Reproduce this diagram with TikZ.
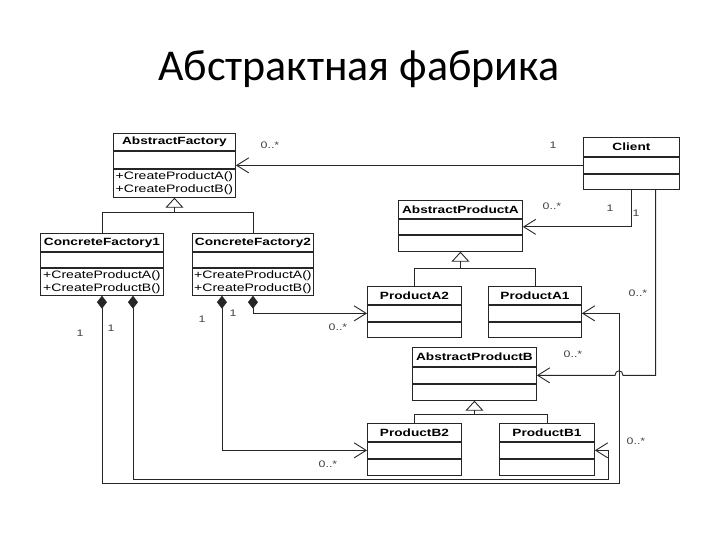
\documentclass[tikz,border=0pt]{standalone}
\usepackage{fontspec}
\newfontfamily\titlefont{Carlito}
\newfontfamily\umlfont[FakeStretch=1.3]{Liberation Sans}
\usetikzlibrary{positioning,arrows.meta,calc}

\tikzset{
  cname/.style={draw=black!85, line width=0.9pt, fill=white, inner sep=0pt,
    font=\umlfont\bfseries\fontsize{10.5}{12}\selectfont},
  crow/.style={draw=black!85, line width=0.9pt, fill=white, inner sep=0pt},
  cops/.style={crow, align=left, inner xsep=1pt,
    font=\umlfont\fontsize{10.8}{13}\selectfont},
  mult/.style={font=\umlfont\fontsize{9.5}{11}\selectfont, text=black!75, inner sep=0pt},
  assoc/.style={draw=black!85, line width=0.9pt, -{Straight Barb[length=12pt,width=15pt]}},
  comp/.style={draw=black!85, line width=0.9pt,
    arrows={Diamond[length=13pt,width=10pt]-Straight Barb[length=12pt,width=15pt]}},
  inh/.style={draw=black!85, line width=0.9pt, -{Triangle[open,length=10pt,width=18pt]}},
  plain/.style={draw=black!85, line width=0.9pt}
}

\begin{document}
\begin{tikzpicture}[x=1pt,y=-1pt]
\useasboundingbox (0,0) rectangle (720,540);

\node[font=\titlefont\fontsize{44}{52}\selectfont] (title) at (359,69) {Абстрактная фабрика};

% factories
\node[cname, anchor=north west, minimum width=122pt, minimum height=17pt] (af) at (113,133) {AbstractFactory};
\node[crow, below=0pt of af, minimum width=122pt, minimum height=17pt] (af-a) {};
\node[cops, below=0pt of af-a, minimum width=122pt, minimum height=28pt] (af-o) {+CreateProductA()\\+CreateProductB()};

\node[cname, anchor=north west, minimum width=123pt, minimum height=18pt] (cf1) at (40,233) {ConcreteFactory1};
\node[crow, below=0pt of cf1, minimum width=123pt, minimum height=15pt] (cf1-a) {};
\node[cops, below=0pt of cf1-a, minimum width=123pt, minimum height=27pt] (cf1-o) {+CreateProductA()\\+CreateProductB()};

\node[cname, anchor=north west, minimum width=121pt, minimum height=18pt] (cf2) at (192,233) {ConcreteFactory2};
\node[crow, below=0pt of cf2, minimum width=121pt, minimum height=15pt] (cf2-a) {};
\node[cops, below=0pt of cf2-a, minimum width=121pt, minimum height=27pt] (cf2-o) {+CreateProductA()\\+CreateProductB()};

% client
\node[cname, anchor=north west, minimum width=96pt, minimum height=19pt] (cl) at (583,137) {Client};
\node[crow, below=0pt of cl, minimum width=96pt, minimum height=16pt] (cl-a) {};
\node[crow, below=0pt of cl-a, minimum width=96pt, minimum height=15pt] (cl-o) {};

% products A
\node[cname, anchor=north west, minimum width=124pt, minimum height=18pt] (apa) at (398,200) {AbstractProductA};
\node[crow, below=0pt of apa, minimum width=124pt, minimum height=15pt] (apa-a) {};
\node[crow, below=0pt of apa-a, minimum width=124pt, minimum height=16pt] (apa-o) {};

\node[cname, anchor=north west, minimum width=94pt, minimum height=18pt] (pa2) at (367,286) {ProductA2};
\node[crow, below=0pt of pa2, minimum width=94pt, minimum height=16pt] (pa2-a) {};
\node[crow, below=0pt of pa2-a, minimum width=94pt, minimum height=15pt] (pa2-o) {};

\node[cname, anchor=north west, minimum width=93pt, minimum height=18pt] (pa1) at (488,286) {ProductA1};
\node[crow, below=0pt of pa1, minimum width=93pt, minimum height=16pt] (pa1-a) {};
\node[crow, below=0pt of pa1-a, minimum width=93pt, minimum height=15pt] (pa1-o) {};

% products B
\node[cname, anchor=north west, minimum width=124pt, minimum height=19pt] (apb) at (412,347) {AbstractProductB};
\node[crow, below=0pt of apb, minimum width=124pt, minimum height=16pt] (apb-a) {};
\node[crow, below=0pt of apb-a, minimum width=124pt, minimum height=16pt] (apb-o) {};

\node[cname, anchor=north west, minimum width=94pt, minimum height=18pt] (pb2) at (367,423) {ProductB2};
\node[crow, below=0pt of pb2, minimum width=94pt, minimum height=16pt] (pb2-a) {};
\node[crow, below=0pt of pb2-a, minimum width=94pt, minimum height=16pt] (pb2-o) {};

\node[cname, anchor=north west, minimum width=95pt, minimum height=18pt] (pb1) at (499,423) {ProductB1};
\node[crow, below=0pt of pb1, minimum width=95pt, minimum height=16pt] (pb1-a) {};
\node[crow, below=0pt of pb1-a, minimum width=95pt, minimum height=16pt] (pb1-o) {};

% generalisation
\draw[inh] (cf1.north) |- ($(af-o.south)+(0,15)$) -- (af-o.south);
\draw[plain] (cf2.north) |- ($(af-o.south)+(0,15)$);
\draw[inh] (pa2.north) |- ($(apa-o.south)+(0,17)$) -- (apa-o.south);
\draw[plain] (pa1.north) |- ($(apa-o.south)+(0,17)$);
\draw[inh] (pb2.north) |- ($(apb-o.south)+(0,14)$) -- (apb-o.south);
\draw[plain] (pb1.north) |- ($(apb-o.south)+(0,14)$);

% client associations
\coordinate (rb) at (619,483);
\coordinate (rc) at (608,479);
\coordinate (clb) at ($(cl-o.south)!0.5!(cl-o.south east)$);
\draw[assoc] (cl-a.west) -- (cl-a.west -| af-a.east);
\draw[assoc] (cl-o.south) |- (apa-a.east);
\draw[assoc] (clb) |- ($(rb |- apb-a.east)+(4,0)$) .. controls +(0,-6) and +(0,-6) .. ($(rb |- apb-a.east)+(-4,0)$) -- (apb-a.east);

% creation links
\draw[comp] (cf2-o.south) |- (pa2-a.west);
\draw[comp] ($(cf2-o.south)+(-31,0)$) |- (pb2-a.west);
\draw[comp] (cf1-o.south) |- (rb) |- (pa1-a.east);
\draw[comp] ($(cf1-o.south)+(31,0)$) |- (rc) |- (pb1-a.east);

% multiplicities
\node[mult] (m1) at (270,145) {0..*};
\node[mult] (m2) at (553,145) {1};
\node[mult] (m3) at (552,206) {0..*};
\node[mult] (m4) at (610,208) {1};
\node[mult] (m5) at (636,213) {1};
\node[mult] (m6) at (638,293) {0..*};
\node[mult] (m7) at (573,354) {0..*};
\node[mult] (m8) at (636,441) {0..*};
\node[mult] (m9) at (338,327) {0..*};
\node[mult] (m10) at (328,464) {0..*};
\node[mult] (m11) at (80,333) {1};
\node[mult] (m12) at (111,328) {1};
\node[mult] (m13) at (202,319) {1};
\node[mult] (m14) at (233,313) {1};
\end{tikzpicture}
\end{document}
